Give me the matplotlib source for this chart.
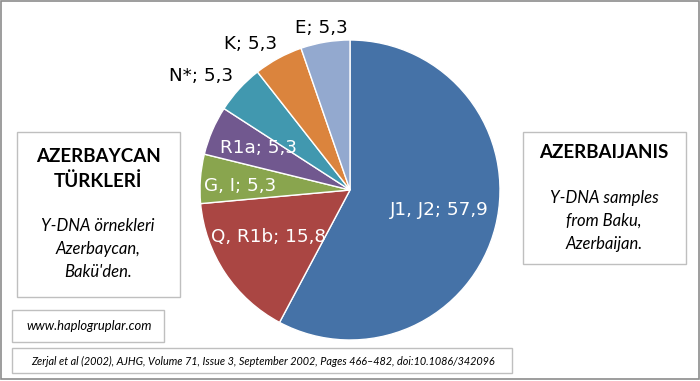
import matplotlib
matplotlib.use("Agg")
import numpy as np
import matplotlib.pyplot as plt
from matplotlib.patches import Rectangle

# slice data (clockwise from 12 o'clock)
groups = ["J1, J2", "Q, R1b", "G, I", "R1a", "N*", "K", "E"]
percent = [57.9, 15.8, 5.3, 5.3, 5.3, 5.3, 5.3]
colors = ["#4572A7", "#AA4643", "#89A54E", "#71588F", "#4198AF", "#DB843D", "#93A9CF"]

# label placement (radius in pie units, angular nudge in degrees)
label_r = [0.61, 0.63, 0.73, 0.67, 1.25, 1.18, 1.10]
label_nudge = [1.3, -3.5, 2.0, -1.4, 5.0, 5.8, 0.6]
label_inside = [True, True, True, True, False, False, False]

W, H = 700, 381
fig = plt.figure(figsize=(W / 100, H / 100), dpi=100)


def fx(px):
    return px / W


def fy(py):
    return 1 - py / H


# pie axes: centre (350, 190), radius 150 px
ax = fig.add_axes([fx(200), fy(340), 300 / W, 300 / H], zorder=3)
wedges, _ = ax.pie(percent, colors=colors, startangle=90, counterclock=False,
                   radius=1.0, wedgeprops=dict(edgecolor="white", linewidth=1.0))
ax.set_xlim(-1, 1)
ax.set_ylim(-1, 1)
ax.set_aspect("equal")
ax.axis("off")

for w, g, p, r, dn, inside in zip(wedges, groups, percent, label_r, label_nudge, label_inside):
    mid = np.deg2rad((w.theta1 + w.theta2) / 2 + dn)
    txt = f"{g}; {str(p).replace('.', ',')}"
    ax.text(r * np.cos(mid), r * np.sin(mid), txt, ha="center", va="center",
            fontsize=13.2, color="white" if inside else "black",
            family="DejaVu Sans", clip_on=False)


def box(x0, y0, x1, y1):
    fig.add_artist(Rectangle((fx(x0), fy(y1)), fx(x1) - fx(x0), fy(y0) - fy(y1),
                             transform=fig.transFigure, facecolor="white",
                             edgecolor="#BFBFBF", linewidth=1.0))


# outer chart border
fig.add_artist(Rectangle((fx(1), fy(379)), fx(698), fy(1) - fy(379),
                         transform=fig.transFigure, fill=False,
                         edgecolor="#8C8C8C", linewidth=1.2))

box(17, 132, 180, 297)
fig.text(fx(98), fy(169), "AZERBAYCAN\nTÜRKLERİ", ha="center", va="center",
         fontsize=13.5, fontweight="bold", family="Lato", linespacing=1.45)
fig.text(fx(98), fy(249), "Y-DNA örnekleri\nAzerbaycan,\nBakü'den.", ha="center",
         va="center", fontsize=12, style="italic", family="Lato", linespacing=1.55)

box(523, 132, 686, 264)
fig.text(fx(604), fy(153), "AZERBAIJANIS", ha="center", va="center",
         fontsize=13.5, fontweight="bold", family="Lato")
fig.text(fx(604), fy(221), "Y-DNA samples\nfrom Baku,\nAzerbaijan.", ha="center",
         va="center", fontsize=12, style="italic", family="Lato", linespacing=1.55)

box(12, 310, 164, 342)
fig.text(fx(26), fy(326), "www.haplogruplar.com", ha="left", va="center",
         fontsize=9.4, style="italic", family="Lato")

box(12, 348, 512, 373)
fig.text(fx(31), fy(361),
         "Zerjal et al (2002), AJHG, Volume 71, Issue 3, September 2002, Pages 466–482, doi:10.1086/342096",
         ha="left", va="center", fontsize=7.8, style="italic", family="Lato")

fig.savefig("out.png", dpi=100)
